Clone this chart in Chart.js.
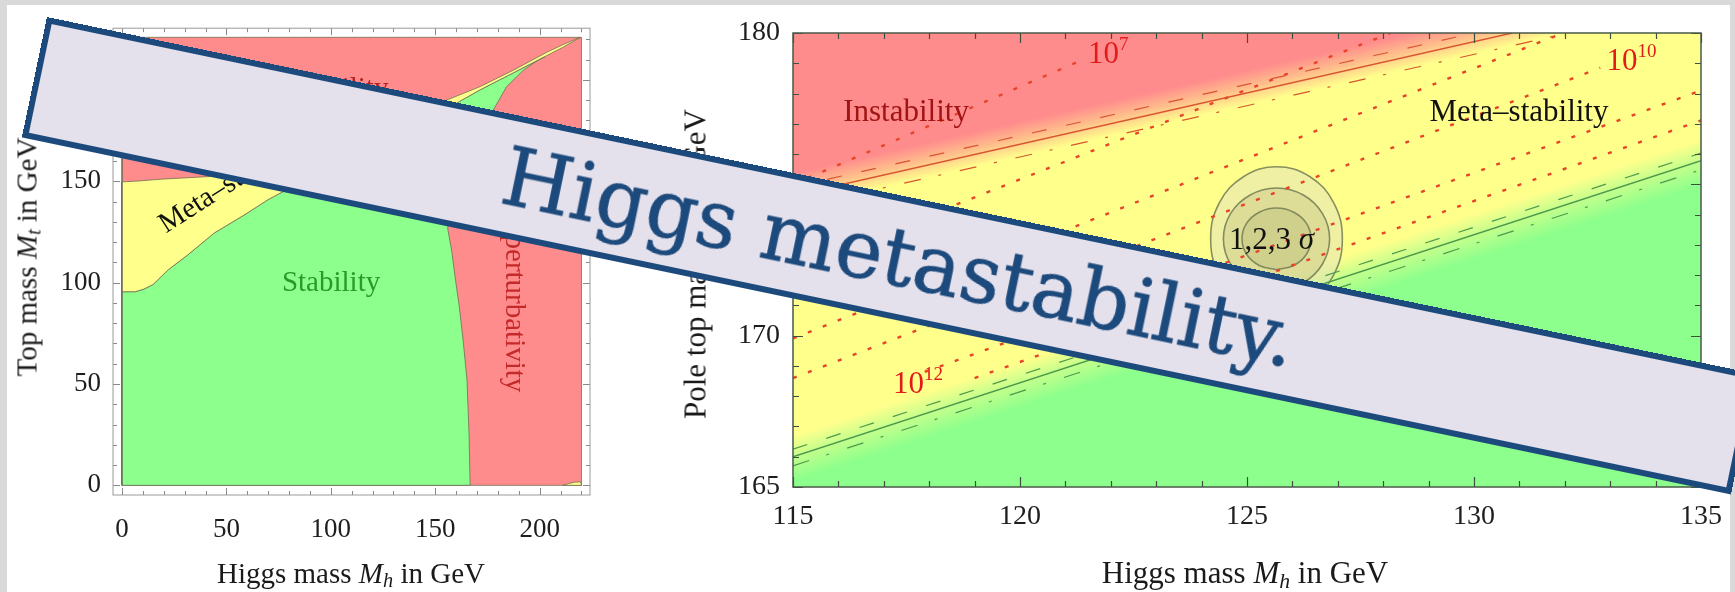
<!DOCTYPE html>
<html>
<head>
<meta charset="utf-8">
<script src="https://cdn.jsdelivr.net/npm/chart.js@4.4.1/dist/chart.umd.min.js"></script>
<style>
  html, body { margin: 0; padding: 0; }
  body { width: 1735px; height: 592px; overflow: hidden; background: #d9d9d9; position: relative;
         font-family: 'Liberation Serif', 'Times New Roman', serif; }
  #panel { position: absolute; left: 7px; top: 5px; width: 1723px; height: 600px; background: #ffffff; }
  canvas { position: absolute; top: 0; }
  #cLeft { left: 0; }
  #cRight { left: 610px; }
  .ttl { position: absolute; white-space: nowrap; color: #1a1a1a; line-height: 1; }
  .ttl i { font-style: italic; }
  .sb { position: relative; top: 0.22em; font-size: 0.7em; font-style: italic; }
  #banner { position: absolute; left: 46.7px; top: 16.7px; width: 1745.5px; height: 123.4px;
            box-sizing: border-box; border: 6px solid #1d4a7c; background: #e4e0ec;
            transform-origin: 0 0; transform: rotate(11.8deg);
            text-align: center; font-family: 'DejaVu Serif', serif; font-size: 80px;
            padding-left: 22px; line-height: 111.4px; color: #1d4a7c; white-space: nowrap;
            -webkit-text-stroke: 0.8px #1d4a7c; }
</style>
</head>
<body>
<div id="panel"></div>
<canvas id="cLeft" width="610" height="592"></canvas>
<canvas id="cRight" width="1125" height="592"></canvas>

<div class="ttl" style="font-size:29px; left:351px; top:559px; transform:translateX(-50%);">Higgs mass <i>M</i><span class="sb">h</span> in GeV</div>
<div class="ttl" style="font-size:29px; left:26.5px; top:257px; transform:translate(-50%,-50%) rotate(-90deg);">Top mass <i>M</i><span class="sb">t</span> in GeV</div>
<div class="ttl" style="font-size:31px; left:1245px; top:557px; transform:translateX(-50%);">Higgs mass <i>M</i><span class="sb">h</span> in GeV</div>
<div class="ttl" style="font-size:31px; left:694.5px; top:264px; transform:translate(-50%,-50%) rotate(-90deg);">Pole top mass <i>M</i><span class="sb">t</span> in GeV</div>

<div id="banner">Higgs metastability.</div>

<script>
// ---------------- LEFT PANEL DATA (Mh, Mt in GeV) ----------------
const leftXTicks = [0, 50, 100, 150, 200];
const leftYTicks = [0, 50, 100, 150, 200];
const leftXMinor = [0,10,20,30,40,50,60,70,80,90,100,110,120,130,140,150,160,170,180,190,200,210,220];
const leftYMinor = [0,10,20,30,40,50,60,70,80,90,100,110,120,130,140,150,160,170,180,190,200,210,220];

const leftInstabilityRegion = [
  {x:0,y:0},{x:220,y:0},{x:220,y:221},{x:0,y:221},{x:0,y:0}
];
const leftStabilityRegion = [
  {x:0,y:0},{x:166.7,y:0},{x:166.2,y:25},{x:165.2,y:51.8},{x:163.5,y:70},{x:161.5,y:88.2},
  {x:159.6,y:102},{x:157.9,y:115.5},{x:156,y:126.4},{x:156.5,y:138},{x:159,y:150},{x:163,y:162},
  {x:168,y:171},{x:172.5,y:177},{x:176.2,y:182.3},{x:184.2,y:196.7},{x:192.2,y:204.8},
  {x:198.6,y:209.3},{x:202.6,y:211.5},
  {x:187.4,y:203.5},{x:171.5,y:195.1},{x:156.3,y:186.3},{x:145,y:181},{x:130,y:173.8},
  {x:110,y:163},{x:90,y:152},{x:69.9,y:140.9},{x:58.9,y:133.6},{x:44.2,y:124.5},{x:31.4,y:113.6},
  {x:22.2,y:106.4},{x:14.9,y:99.1},{x:10.5,y:96.8},{x:6.3,y:95.5},{x:0,y:95.5},{x:0,y:0}
];
const leftMetaRegion = [
  {x:0,y:95.5},{x:6.3,y:95.5},{x:10.5,y:96.8},{x:14.9,y:99.1},{x:22.2,y:106.4},{x:31.4,y:113.6},
  {x:44.2,y:124.5},{x:58.9,y:133.6},{x:69.9,y:140.9},{x:90,y:152},{x:110,y:163},{x:130,y:173.8},
  {x:145,y:181},{x:156.3,y:186.3},{x:171.5,y:195.1},{x:187.4,y:203.5},{x:203.4,y:212},
  {x:211,y:216},{x:217.8,y:220},{x:219.6,y:220.9},
  {x:219.3,y:221},{x:211,y:217.3},{x:203.4,y:213.6},{x:187.4,y:204.8},{x:171.5,y:196.7},
  {x:152.3,y:188.7},{x:130,y:179},{x:100,y:168},{x:70,y:158},{x:45,y:152.5},{x:18.5,y:151},
  {x:6,y:150},{x:0,y:149.7},{x:0,y:95.5}
];
const leftMetaCorner = [
  {x:211,y:0},{x:214,y:0.9},{x:217,y:1.6},{x:219.5,y:1.7},{x:220,y:0.5},{x:220,y:0},{x:211,y:0}
];

// ---------------- RIGHT PANEL DATA (Mh, Mt in GeV) ----------------
const rightXTicks = [115, 120, 125, 130, 135];
const rightYTicks = [165, 170, 175, 180];
const rightXMinor = [115,116,117,118,119,120,121,122,123,124,125,126,127,128,129,130,131,132,133,134,135];
const rightYMinor = [165,166,167,168,169,170,171,172,173,174,175,176,177,178,179,180];

const instabilityLine  = [{x:115,y:174.63},{x:130.84,y:180}];
const instabilityUpper = [{x:115,y:174.91},{x:130.0,y:180}];
const instabilityLower = [{x:115,y:174.21},{x:132.08,y:180}];
const stabilityLine    = [{x:115,y:166.0},{x:135,y:175.78}];
const stabilityUpper   = [{x:115,y:166.25},{x:135,y:176.03}];
const stabilityLower   = [{x:115,y:165.7},{x:135,y:175.48}];

const lambda7  = [{x:115,y:175.0},{x:121.31,y:179.07}];
const lambda8  = [{x:115,y:172.2},{x:128.16,y:180}];
const lambda9  = [{x:115,y:169.91},{x:131.96,y:180}];
const lambda10 = [{x:115,y:168.6},{x:132.78,y:178.85}];
const lambda11 = [{x:117.9,y:168.8},{x:135,y:178.1}];
const lambda12 = [{x:119.0,y:168.6},{x:135,y:177.11}];

const sigma3Contour = [
  {x:125.65,y:170.82},{x:126.38,y:171.14},{x:126.91,y:172.01},{x:127.10,y:173.20},{x:126.91,y:174.39},
  {x:126.38,y:175.26},{x:125.65,y:175.58},{x:124.93,y:175.26},{x:124.39,y:174.39},{x:124.20,y:173.20},
  {x:124.39,y:172.01},{x:124.93,y:171.14},{x:125.65,y:170.82}
];
const sigma2Contour = [
  {x:125.65,y:171.52},{x:126.24,y:171.75},{x:126.66,y:172.36},{x:126.82,y:173.20},{x:126.66,y:174.04},
  {x:126.24,y:174.65},{x:125.65,y:174.88},{x:125.07,y:174.65},{x:124.64,y:174.04},{x:124.48,y:173.20},
  {x:124.64,y:172.36},{x:125.07,y:171.75},{x:125.65,y:171.52}
];
const sigma1Contour = [
  {x:125.65,y:172.18},{x:126.03,y:172.32},{x:126.31,y:172.69},{x:126.41,y:173.20},{x:126.31,y:173.71},
  {x:126.03,y:174.08},{x:125.65,y:174.22},{x:125.27,y:174.08},{x:124.99,y:173.71},{x:124.89,y:173.20},
  {x:124.99,y:172.69},{x:125.27,y:172.32},{x:125.65,y:172.18}
];

// ---------------- STYLE ----------------
const FONT = "'Liberation Serif','Times New Roman',serif";
const RED = '#ff8c8c', YELLOW = '#ffff8c', GREEN = '#8cff8c';
Chart.defaults.font.family = FONT;
Chart.defaults.color = '#222';

const framePlugin = {
  id: 'frame',
  afterDatasetsDraw(chart, args, o) {
    const {ctx, chartArea: a, scales: {x, y}} = chart;
    ctx.save();
    ctx.strokeStyle = o.tickColor; ctx.lineWidth = o.tickWidth;
    ctx.beginPath();
    const xt = (vals, len) => vals.forEach(v => {
      const p = Math.round(x.getPixelForValue(v)) + 0.5;
      ctx.moveTo(p, a.bottom); ctx.lineTo(p, a.bottom - len);
      ctx.moveTo(p, a.top); ctx.lineTo(p, a.top + len);
    });
    const yt = (vals, len) => vals.forEach(v => {
      const p = Math.round(y.getPixelForValue(v)) + 0.5;
      ctx.moveTo(a.left, p); ctx.lineTo(a.left + len, p);
      ctx.moveTo(a.right, p); ctx.lineTo(a.right - len, p);
    });
    xt(o.xMinor, o.minorLen); yt(o.yMinor, o.minorLen);
    xt(o.xMajor, o.majorLen); yt(o.yMajor, o.majorLen);
    ctx.stroke();
    ctx.strokeStyle = o.color; ctx.lineWidth = o.width;
    ctx.strokeRect(a.left, a.top, a.right - a.left, a.bottom - a.top);
    ctx.restore();
  }
};

const labelPlugin = {
  id: 'plotLabels',
  afterDatasetsDraw(chart, args, o) {
    const {ctx, scales: {x, y}} = chart;
    for (const it of o.items) {
      const px = x.getPixelForValue(it.x), py = y.getPixelForValue(it.y);
      ctx.save();
      ctx.translate(px, py);
      if (it.rotate) ctx.rotate(it.rotate * Math.PI / 180);
      ctx.fillStyle = it.color;
      ctx.textBaseline = it.baseline || 'alphabetic';
      ctx.textAlign = 'left';
      const parts = it.parts || [{text: it.text}];
      const fontOf = p => `${p.italic ? 'italic ' : ''}${p.size || it.size}px ${FONT}`;
      let total = 0;
      const widths = parts.map(p => { ctx.font = fontOf(p); const w = ctx.measureText(p.text).width; total += w; return w; });
      let cx = it.align === 'center' ? -total / 2 : (it.align === 'right' ? -total : 0);
      parts.forEach((p, i) => { ctx.font = fontOf(p); ctx.fillText(p.text, cx, p.dy || 0); cx += widths[i]; });
      ctx.restore();
    }
  }
};

const bandPlugin = {
  id: 'bands',
  beforeDatasetsDraw(chart, args, o) {
    const {ctx, chartArea: a, scales: {x, y}} = chart;
    ctx.save();
    ctx.beginPath(); ctx.rect(a.left, a.top, a.right - a.left, a.bottom - a.top); ctx.clip();
    ctx.fillStyle = o.base; ctx.fillRect(a.left, a.top, a.right - a.left, a.bottom - a.top);
    for (const b of o.bands) {
      const p0 = {x: x.getPixelForValue(b.line[0].x), y: y.getPixelForValue(b.line[0].y)};
      const p1 = {x: x.getPixelForValue(b.line[1].x), y: y.getPixelForValue(b.line[1].y)};
      let dx = p1.x - p0.x, dy = p1.y - p0.y; const L = Math.hypot(dx, dy); dx /= L; dy /= L;
      const nx = b.side * dy, ny = -b.side * dx;
      const g = ctx.createLinearGradient(p0.x + nx * b.from, p0.y + ny * b.from, p0.x + nx * b.to, p0.y + ny * b.to);
      g.addColorStop(0, `rgba(${b.rgb},0)`);
      g.addColorStop(0.5, `rgba(${b.rgb},0.55)`);
      g.addColorStop(1, `rgba(${b.rgb},1)`);
      ctx.fillStyle = g; ctx.fillRect(a.left, a.top, a.right - a.left, a.bottom - a.top);
    }
    ctx.restore();
  }
};

function region(data, color, order) {
  return { data, showLine: true, fill: 'shape', backgroundColor: color, borderColor: 'rgba(105,105,80,0.75)',
           borderWidth: 1, pointRadius: 0, tension: 0, order };
}
function curve(data, color, width, dash, order) {
  return { data, showLine: true, fill: false, borderColor: color, borderWidth: width, borderDash: dash || [],
           pointRadius: 0, tension: 0, order };
}
function contour(data, fillColor, order) {
  return { data, showLine: true, fill: 'shape', backgroundColor: fillColor, borderColor: 'rgba(115,125,85,0.85)',
           borderWidth: 1.6, pointRadius: 0, tension: 0.4, order };
}
function axis(min, max, ticks, size, padding, fit) {
  return { type: 'linear', min, max,
    grid: { display: false, drawTicks: false }, border: { display: false },
    afterBuildTicks: s => { s.ticks = ticks.map(v => ({value: v})); },
    afterFit: fit,
    ticks: { font: { family: FONT, size }, color: '#1e1e1e', padding, maxRotation: 0, autoSkip: false } };
}

// ---------------- LEFT CHART ----------------
new Chart(document.getElementById('cLeft'), {
  type: 'scatter',
  data: { datasets: [
    region(leftMetaCorner, YELLOW, 1),
    region(leftMetaRegion, YELLOW, 2),
    region(leftStabilityRegion, GREEN, 3),
    region(leftInstabilityRegion, RED, 4)
  ]},
  options: {
    responsive: false, animation: false, devicePixelRatio: 1,
    layout: { padding: { left: 0, top: 17, right: 20, bottom: 0 } },
    scales: {
      x: axis(-4.31, 224.1, leftXTicks, 27, 19, s => { s.height = 97; }),
      y: axis(-4.77, 225.5, leftYTicks, 27, 12, s => { s.width = 113; })
    },
    plugins: {
      legend: { display: false }, tooltip: { enabled: false },
      frame: { color: '#9a9a9a', width: 1, tickColor: '#8a8a8a', tickWidth: 1, majorLen: 7, minorLen: 4,
               xMajor: leftXTicks, xMinor: leftXMinor, yMajor: leftYTicks, yMinor: leftYMinor },
      plotLabels: { items: [
        { text: 'Instability', x: 99.4, y: 191.8, size: 29, color: '#b52020', align: 'center' },
        { text: 'Meta\u2013stability', x: 54.8, y: 146.6, size: 29, color: '#111', align: 'center', rotate: -32.8 },
        { text: 'Stability', x: 100.1, y: 99.7, size: 29, color: '#2a9a2a', align: 'center', baseline: 'middle' },
        { text: 'Non-perturbativity', x: 187.3, y: 99.5, size: 29, color: '#c42a2a', align: 'center', baseline: 'middle', rotate: 90 }
      ]}
    }
  },
  plugins: [framePlugin, labelPlugin]
});

// ---------------- RIGHT CHART ----------------
const DOT = '#e8442a', REDL = '#d9552f', GRNL = '#4c9a4c';
new Chart(document.getElementById('cRight'), {
  type: 'scatter',
  data: { datasets: [
    curve(instabilityLine, REDL, 1.4, [], 1),
    curve(instabilityUpper, REDL, 1.2, [15, 20], 1),
    curve(instabilityLower, REDL, 1.2, [17, 18, 3, 19], 1),
    curve(stabilityLine, GRNL, 1.4, [], 1),
    curve(stabilityUpper, GRNL, 1.2, [15, 20], 1),
    curve(stabilityLower, GRNL, 1.2, [17, 18, 3, 19], 1),
    curve(lambda7, DOT, 2.4, [4, 12], 2),
    curve(lambda8, DOT, 2.4, [4, 12], 2),
    curve(lambda9, DOT, 2.4, [4, 12], 2),
    curve(lambda10, DOT, 2.4, [4, 12], 2),
    curve(lambda11, DOT, 2.4, [4, 12], 2),
    curve(lambda12, DOT, 2.4, [4, 12], 2),
    contour(sigma1Contour, 'rgba(180,180,120,0.30)', 3),
    contour(sigma2Contour, 'rgba(180,180,120,0.30)', 4),
    contour(sigma3Contour, 'rgba(225,225,190,0.50)', 5)
  ]},
  options: {
    responsive: false, animation: false, devicePixelRatio: 1,
    layout: { padding: { left: 0, top: 33, right: 34, bottom: 0 } },
    scales: {
      x: axis(115, 135, rightXTicks, 28, 13, s => { s.height = 105; }),
      y: axis(165, 180, rightYTicks, 28, 13, s => { s.width = 183; })
    },
    plugins: {
      legend: { display: false }, tooltip: { enabled: false },
      bands: { base: YELLOW, bands: [
        { line: instabilityLine, rgb: '255,140,140', side: 1, from: -12, to: 22 },
        { line: stabilityLine, rgb: '140,255,140', side: -1, from: -20, to: 24 }
      ]},
      frame: { color: '#4a5a4a', width: 1.5, tickColor: '#3f4f3f', tickWidth: 1.2, majorLen: 10, minorLen: 6,
               xMajor: rightXTicks, xMinor: rightXMinor, yMajor: rightYTicks, yMinor: rightYMinor },
      plotLabels: { items: [
        { text: 'Instability', x: 117.49, y: 177.08, size: 31, color: '#a01414', align: 'center' },
        { text: 'Meta\u2013stability', x: 130.99, y: 177.08, size: 31, color: '#111', align: 'center' },
        { x: 121.5, y: 179.01, size: 31, color: '#e31a1a', parts: [{text: '10'}, {text: '7', size: 19, dy: -13}] },
        { x: 132.92, y: 178.79, size: 31, color: '#e31a1a', parts: [{text: '10'}, {text: '10', size: 19, dy: -13}] },
        { x: 117.2, y: 168.11, size: 31, color: '#e31a1a', parts: [{text: '10'}, {text: '12', size: 19, dy: -13}] },
        { x: 125.54, y: 172.85, size: 31, color: '#111', align: 'center', parts: [{text: '1,2,3 '}, {text: '\u03c3', italic: true}] }
      ]}
    }
  },
  plugins: [bandPlugin, framePlugin, labelPlugin]
});
</script>
</body>
</html>
